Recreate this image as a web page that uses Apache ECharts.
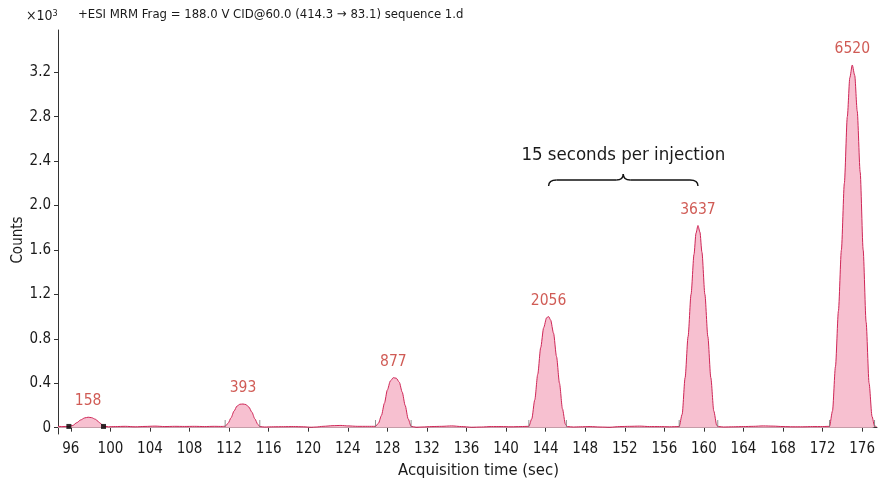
<!DOCTYPE html>
<html>
<head>
<meta charset="utf-8">
<script src="https://cdn.jsdelivr.net/npm/echarts@6/dist/echarts.min.js"></script>
<style>
  html, body { margin: 0; padding: 0; background: #fff; }
  #chart { width: 878px; height: 480px; }
</style>
</head>
<body>
<div id="chart"></div>
<script>
// ---- Data ----
const times = [
  94.7, 95.2, 95.8,
  96.2, 96.6, 97.0, 97.4, 97.75, 98.1, 98.5, 98.9, 99.3,
  99.8, 100.5, 101.5, 102.5, 103.5, 104.5, 105.5, 106.5, 107.5, 108.5, 109.5, 110.5, 111.3, 111.6,
  111.9, 112.2, 112.5, 112.8, 113.1, 113.4, 113.7, 114.0, 114.3, 114.6, 114.9, 115.1,
  115.6, 116.5, 117.5, 118.5, 119.5, 120.3, 120.8, 121.5, 122.5, 123.3, 124.0, 125.0, 126.0, 126.8,
  127.1, 127.4, 127.7, 128.0, 128.3, 128.6, 128.9, 129.2, 129.5, 129.8, 130.1, 130.4,
  130.9, 131.5, 132.5, 133.5, 134.5, 135.5, 136.5, 137.5, 138.5, 139.5, 140.5, 141.5, 142.3,
  142.6, 142.9, 143.2, 143.5, 143.8, 144.1, 144.3, 144.5, 144.8, 145.1, 145.4, 145.7, 146.0, 146.2,
  146.8, 147.5, 148.5, 149.5, 150.5, 151.5, 152.5, 153.5, 154.5, 155.5, 156.5, 157.5,
  157.8, 158.1, 158.4, 158.7, 159.0, 159.2, 159.4, 159.6, 159.8, 160.1, 160.4, 160.7, 161.0, 161.3, 161.5,
  162.0, 163.0, 164.0, 165.0, 166.0, 167.0, 168.0, 169.0, 170.0, 171.0, 172.0, 172.7,
  173.0, 173.3, 173.6, 173.9, 174.2, 174.5, 174.75, 175.0, 175.25, 175.5, 175.8, 176.1, 176.4, 176.7, 177.0, 177.25, 177.45
];
const counts = [
  0.012, 0.010, 0.012,
  0.020, 0.045, 0.070, 0.088, 0.094, 0.090, 0.075, 0.045, 0.015,
  0.008, 0.010, 0.012, 0.008, 0.011, 0.014, 0.010, 0.012, 0.011, 0.012, 0.010, 0.012, 0.011, 0.013,
  0.040, 0.090, 0.150, 0.195, 0.211, 0.213, 0.208, 0.185, 0.140, 0.080, 0.030, 0.010,
  0.006, 0.008, 0.009, 0.010, 0.008, 0.004, 0.006, 0.012, 0.018, 0.020, 0.016, 0.012, 0.012, 0.012,
  0.040, 0.110, 0.220, 0.340, 0.420, 0.450, 0.445, 0.410, 0.320, 0.200, 0.080, 0.012,
  0.004, 0.006, 0.010, 0.012, 0.016, 0.010, 0.004, 0.006, 0.010, 0.010, 0.008, 0.010, 0.012,
  0.080, 0.250, 0.480, 0.720, 0.900, 0.990, 1.000, 0.970, 0.850, 0.640, 0.400, 0.170, 0.030, 0.010,
  0.006, 0.008, 0.010, 0.006, 0.004, 0.010, 0.012, 0.014, 0.010, 0.010, 0.008, 0.010,
  0.120, 0.450, 0.820, 1.200, 1.560, 1.750, 1.820, 1.760, 1.580, 1.200, 0.820, 0.450, 0.150, 0.020, 0.010,
  0.006, 0.008, 0.010, 0.012, 0.016, 0.014, 0.010, 0.008, 0.008, 0.010, 0.010, 0.012,
  0.150, 0.550, 1.050, 1.600, 2.200, 2.800, 3.150, 3.265, 3.170, 2.850, 2.300, 1.600, 0.950, 0.400, 0.100, 0.015, 0.010
];
const peakTimes   = [97.75, 113.4, 128.6, 144.3, 159.4, 175.0];
const peakHeights = [0.094, 0.213, 0.450, 1.000, 1.820, 3.265];
const peakAreas   = [158, 393, 877, 2056, 3637, 6520];
const boundaryTimes = [111.6, 115.1, 126.8, 130.4, 142.3, 146.1, 157.5, 161.4, 172.7, 177.25];
const integrationMarks = [95.8, 99.3];
const xTicks = [96, 100, 104, 108, 112, 116, 120, 124, 128, 132, 136, 140, 144, 148, 152, 156, 160, 164, 168, 172, 176];
const yTicks = [0, 0.4, 0.8, 1.2, 1.6, 2.0, 2.4, 2.8, 3.2];
const titleText = '+ESI MRM Frag = 188.0 V CID@60.0 (414.3 \u2192 83.1) sequence 1.d';
const yAxisTitle = 'Counts';
const xAxisTitle = 'Acquisition time (sec)';
const annotationText = '15 seconds per injection';
const braceFrom = 144.3, braceTo = 159.4, braceLevel = 2.23, annotationLevel = 2.45;
const baselineLevel = 0.011;

// ---- Chart ----
const FONT = '"DejaVu Sans Condensed", "DejaVu Sans", sans-serif';
const chart = echarts.init(document.getElementById('chart'), null, { renderer: 'canvas' });

const option = {
  animation: false,
  backgroundColor: '#ffffff',
  textStyle: { fontFamily: FONT },
  grid: { left: 58, right: 1, top: 30, bottom: 46, containLabel: false, outerBoundsMode: 'none' },
  xAxis: {
    type: 'value',
    min: 94.7, max: 177.5,
    name: xAxisTitle,
    nameLocation: 'middle',
    nameGap: 27,
    nameTextStyle: { fontSize: 16.5, color: '#1a1a1a', fontFamily: FONT, padding: [0, 0, 0, 22] },
    axisLine: { show: true, lineStyle: { color: '#333', width: 1 } },
    axisTick: { show: true, length: 4, lineStyle: { color: '#333' }, customValues: xTicks },
    axisLabel: { show: true, fontSize: 15, color: '#1a1a1a', margin: 8, customValues: xTicks, fontFamily: FONT },
    splitLine: { show: false }
  },
  yAxis: {
    type: 'value',
    min: -0.057, max: 3.58,
    axisLine: { show: true, lineStyle: { color: '#333', width: 1 } },
    axisTick: { show: true, length: 4, lineStyle: { color: '#333' }, customValues: yTicks },
    axisLabel: {
      show: true, fontSize: 15, color: '#1a1a1a', margin: 7, customValues: yTicks, fontFamily: FONT,
      formatter: v => (v === 0 ? '0' : v.toFixed(1))
    },
    splitLine: { show: false }
  },
  series: [
    {
      type: 'line',
      data: times.map((t, i) => [t, counts[i]]),
      showSymbol: false,
      smooth: 0.25,
      smoothMonotone: 'x',
      lineStyle: { color: '#cf2657', width: 1 },
      areaStyle: { color: '#f7c0d0', opacity: 1 },
      z: 2
    },
    {
      type: 'scatter',
      data: boundaryTimes.map(t => [t, baselineLevel]),
      symbol: 'rect',
      symbolSize: [1, 7],
      symbolOffset: [0, -3],
      itemStyle: { color: '#777' },
      silent: true,
      z: 3
    },
    {
      type: 'scatter',
      data: integrationMarks.map(t => [t, baselineLevel]),
      symbol: 'rect',
      symbolSize: 5,
      itemStyle: { color: '#000' },
      silent: true,
      z: 4
    },
    {
      type: 'scatter',
      data: peakTimes.map((t, i) => [t, peakHeights[i], peakAreas[i]]),
      symbolSize: 0,
      label: {
        show: true,
        position: 'top',
        distance: 8,
        formatter: p => String(p.value[2]),
        fontSize: 15.5,
        color: '#c4322b',
        fontFamily: FONT
      },
      silent: true,
      z: 5
    }
  ]
};
chart.setOption(option);

// Annotation brace positioned through the axes
const pA = chart.convertToPixel({ gridIndex: 0 }, [braceFrom, braceLevel]);
const pB = chart.convertToPixel({ gridIndex: 0 }, [braceTo, braceLevel]);
const pT = chart.convertToPixel({ gridIndex: 0 }, [(braceFrom + braceTo) / 2, annotationLevel]);
const x1 = pA[0], x2 = pB[0], y = pA[1], xm = (x1 + x2) / 2;
const braceStyle = { stroke: '#111', lineWidth: 1.4, fill: null };
const braceParts = [
  { type: 'bezierCurve', shape: { x1: x1, y1: y + 6, cpx1: x1, cpy1: y, x2: x1 + 8, y2: y } },
  { type: 'line', shape: { x1: x1 + 8, y1: y, x2: xm - 7, y2: y } },
  { type: 'bezierCurve', shape: { x1: xm - 7, y1: y, cpx1: xm, cpy1: y, x2: xm, y2: y - 6 } },
  { type: 'bezierCurve', shape: { x1: xm, y1: y - 6, cpx1: xm, cpy1: y, x2: xm + 7, y2: y } },
  { type: 'line', shape: { x1: xm + 7, y1: y, x2: x2 - 8, y2: y } },
  { type: 'bezierCurve', shape: { x1: x2 - 8, y1: y, cpx1: x2, cpy1: y, x2: x2, y2: y + 6 } }
].map(p => Object.assign(p, { style: braceStyle, silent: true }));

chart.setOption({
  graphic: [
    {
      type: 'text', x: 78, y: 8,
      style: { text: titleText, fontSize: 13, fontFamily: FONT, fill: '#1a1a1a' }
    },
    {
      type: 'text', x: 26, y: 9,
      style: {
        text: '\u00d710{s|3}',
        fontSize: 14, fontFamily: FONT, fill: '#1a1a1a',
        rich: { s: { fontSize: 9, fontFamily: FONT, verticalAlign: 'top', padding: [0, 0, 6, 0] } }
      }
    },
    {
      type: 'text', x: 18, y: 240, rotation: Math.PI / 2,
      style: { text: yAxisTitle, fontSize: 15, fontFamily: FONT, fill: '#1a1a1a', align: 'center', verticalAlign: 'middle' }
    },
    {
      type: 'text',
      x: pT[0], y: pT[1],
      style: { text: annotationText, fontSize: 18.5, fontFamily: FONT, fill: '#1a1a1a', align: 'center', verticalAlign: 'middle' }
    }
  ].concat(braceParts)
});
</script>
</body>
</html>
